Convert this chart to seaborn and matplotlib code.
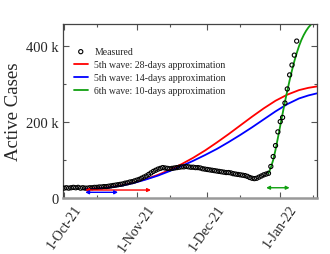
import matplotlib
matplotlib.use('Agg')
import matplotlib.pyplot as plt
import matplotlib.dates as mdates
import seaborn as sns
import pandas as pd
from matplotlib.ticker import FuncFormatter

# measured active cases (thousands), one value per day from 1-Oct-21
start = pd.Timestamp('2021-10-01')
measured_k = [
    26, 27, 26, 27, 28, 27, 28, 26, 27, 26,
    26, 27, 27, 28, 28, 29, 29, 30, 30, 31,
    32, 33, 34, 35, 36, 37, 39, 40, 42, 43,
    45, 47, 49, 52, 55, 58, 62, 66, 70, 73,
    76, 78, 80, 79, 78, 77, 78, 79, 80, 81,
    82, 82, 83, 82, 81, 81, 80, 80, 79, 77,
    76, 75, 74, 73, 72, 71, 70, 69, 68, 67,
    67, 66, 64, 63, 62, 61, 60, 59, 57, 54,
    52, 51, 52, 55, 58, 61, 63,
    65, 83, 109, 138, 174, 201, 212, 250, 287, 324, 350, 376, 413,
]

# approximation curves (day offset from 1-Oct-21, thousands)
red_days = [9, 15, 20, 25, 30, 35, 40, 45, 50, 55, 60, 65, 70, 75, 80, 85, 90, 95, 100, 104, 108]
red_k = [24, 26, 29, 34, 41, 50, 61, 74, 89, 106, 125, 146, 168, 191, 214, 236, 256, 272, 284, 290, 294]
blue_days = [9, 15, 20, 25, 30, 35, 40, 45, 50, 55, 60, 65, 70, 75, 80, 85, 90, 95, 100, 104, 108]
blue_k = [23, 25, 28, 33, 40, 49, 59, 71, 84, 98, 113, 129, 147, 166, 186, 207, 228, 247, 262, 270, 276]
green_days = [87, 88, 89, 90, 91, 92, 93, 94, 95, 96, 97, 98, 99, 100, 101, 102, 103, 104, 105, 106, 107]
green_k = [65, 80, 100, 127, 158, 190, 222, 253, 282, 310, 336, 360, 381, 400, 416, 429, 440, 449, 456, 462, 467]

# fitting windows: start day, length in days, arrow level (thousands)
win_start = [9, 9, 86]
win_len = [28, 14, 10]
win_level = [21, 15, 27]
win_colors = ['red', 'blue', '#10a010']


def to_dates(days):
    return start + pd.to_timedelta(days, unit='D')


meas_df = pd.DataFrame({
    'date': to_dates(list(range(len(measured_k)))),
    'cases': [v * 1000 for v in measured_k],
})

sns.set_style('ticks')
plt.rcParams['font.family'] = ['Liberation Serif', 'DejaVu Serif']

fig = plt.figure(figsize=(3.3, 2.55), dpi=100)
ax = fig.add_axes([0.191, 0.2196, 0.77, 0.6824])

sns.scatterplot(data=meas_df, x='date', y='cases', ax=ax, marker='o',
                facecolor='none', edgecolor='black', linewidth=0.8, s=9,
                label='Measured', zorder=3)

sns.lineplot(x=to_dates(red_days), y=[v * 1000 for v in red_k], ax=ax,
             color='red', linewidth=1.3, label='5th wave: 28-days approximation')
sns.lineplot(x=to_dates(blue_days), y=[v * 1000 for v in blue_k], ax=ax,
             color='blue', linewidth=1.3, label='5th wave: 14-days approximation')
sns.lineplot(x=to_dates(green_days), y=[v * 1000 for v in green_k], ax=ax,
             color='#10a010', linewidth=1.3, label='6th wave: 10-days approximation')

# arrows showing the fitting windows
for s0, n, lv, c in zip(win_start, win_len, win_level, win_colors):
    ax.annotate('', xy=(to_dates([s0 + n])[0], lv * 1000),
                xytext=(to_dates([s0])[0], lv * 1000),
                arrowprops=dict(arrowstyle='<|-|>', color=c, lw=1.0,
                                mutation_scale=5, shrinkA=0, shrinkB=0))

ax.set_xlim(start - pd.Timedelta(hours=10), start + pd.Timedelta(days=107.7))
ax.set_ylim(0, 458000)

ax.xaxis.set_major_locator(mdates.MonthLocator(bymonthday=1))
ax.xaxis.set_minor_locator(mdates.MonthLocator(bymonthday=15))
ax.xaxis.set_major_formatter(mdates.DateFormatter('1-%b-%y'))
ax.set_yticks([0, 200000, 400000])
ax.set_yticks([100000, 300000], minor=True)
ax.yaxis.set_major_formatter(FuncFormatter(lambda v, p: '0' if v == 0 else f'{int(v / 1000)} k'))

ax.tick_params(which='both', direction='in', top=True, right=True,
               color='#555555', pad=3)
ax.tick_params(axis='y', labelsize=10.5)
ax.tick_params(axis='x', labelsize=10)
ax.tick_params(which='major', length=4, width=0.8)
ax.tick_params(which='minor', length=2.5, width=0.8)
for lab in ax.get_xticklabels():
    lab.set_rotation(55)
    lab.set_ha('center')

for side in ['left', 'top', 'right']:
    ax.spines[side].set_color('#444444')
    ax.spines[side].set_linewidth(0.9)
ax.spines['bottom'].set_color('#999999')
ax.spines['bottom'].set_linewidth(1.8)

ax.set_xlabel('')
ax.set_ylabel('Active Cases', fontsize=13.5, labelpad=3)

ax.legend(loc='upper left', bbox_to_anchor=(0.02, 0.9), frameon=False, fontsize=7,
          handlelength=1.4, handletextpad=0.7, labelspacing=0.42, borderaxespad=0.2)

fig.savefig('out.png', dpi=100)
